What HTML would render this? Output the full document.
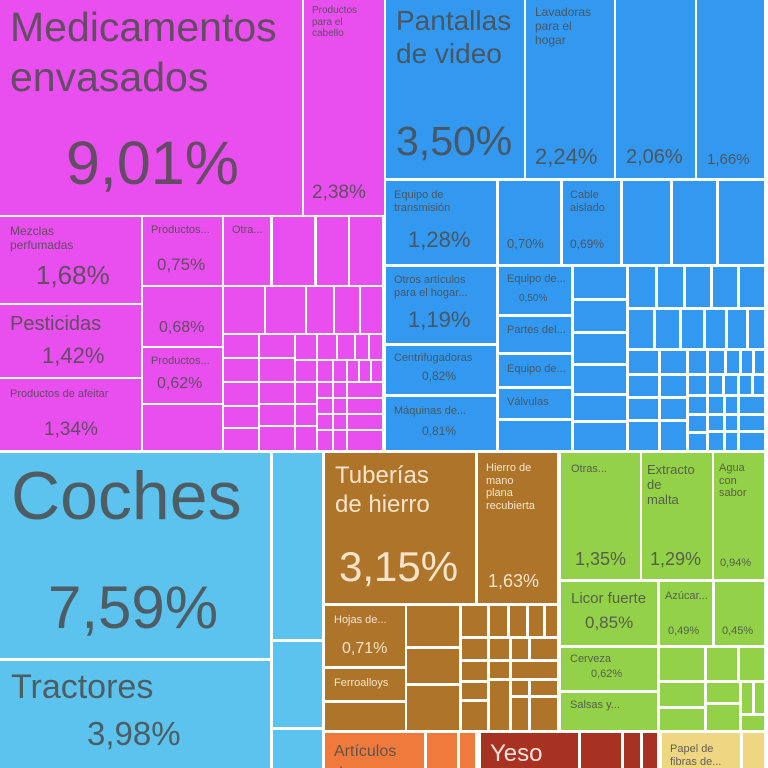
<!DOCTYPE html>
<html><head><meta charset="utf-8"><style>
body{margin:0;width:768px;height:768px;background:#fff;position:relative;overflow:hidden;font-family:"Liberation Sans","DejaVu Sans",sans-serif}
div{position:absolute;box-sizing:border-box;overflow:hidden;color:rgba(75,75,75,.85);line-height:1.15}
.m{background:#e84fee}.b{background:#3399f0}.l{background:#5cc3ee}.r{background:#ae7429}.g{background:#93d148}.o{background:#f07a3c}.d{background:#a83222}.t{background:#eed682}
.r div,.r{color:rgba(255,240,220,.9)}
.d{color:rgba(255,235,230,.95)}
span{position:absolute;white-space:nowrap}
</style></head><body>
<!-- magenta -->
<div class="m" style="left:0;top:0;width:302px;height:215px"><span style="left:10px;top:2px;font-size:41px;line-height:50px">Medicamentos<br>envasados</span><span style="left:66px;top:128px;font-size:61px">9,01%</span></div>
<div class="m" style="left:304px;top:0;width:80px;height:215px"><span style="left:8px;top:5px;font-size:10px">Productos<br>para el<br>cabello</span><span style="left:8px;top:182px;font-size:19px">2,38%</span></div>
<div class="m" style="left:0;top:217px;width:141px;height:86px"><span style="left:10px;top:8px;font-size:12px">Mezclas<br>perfumadas</span><span style="left:36px;top:44px;font-size:26px">1,68%</span></div>
<div class="m" style="left:0;top:305px;width:141px;height:72px"><span style="left:10px;top:8px;font-size:20px">Pesticidas</span><span style="left:42px;top:38px;font-size:22px">1,42%</span></div>
<div class="m" style="left:0;top:379px;width:141px;height:71px"><span style="left:10px;top:9px;font-size:11px">Productos de afeitar</span><span style="left:44px;top:40px;font-size:19px">1,34%</span></div>
<div class="m" style="left:143px;top:217px;width:79px;height:68px"><span style="left:8px;top:7px;font-size:11px">Productos...</span><span style="left:14px;top:38px;font-size:17px">0,75%</span></div>
<div class="m" style="left:143px;top:287px;width:79px;height:59px"><span style="left:16px;top:32px;font-size:16px">0,68%</span></div>
<div class="m" style="left:143px;top:348px;width:79px;height:55px"><span style="left:8px;top:7px;font-size:11px">Productos...</span><span style="left:14px;top:27px;font-size:16px">0,62%</span></div>
<div class="m" style="left:143px;top:405px;width:79px;height:45px"></div>
<div class="m" style="left:224px;top:217px;width:46px;height:68px"><span style="left:8px;top:7px;font-size:11px">Otra...</span></div>
<div class="m" style="left:273px;top:217px;width:41px;height:68px"></div>
<div class="m" style="left:317px;top:217px;width:31px;height:68px"></div>
<div class="m" style="left:350px;top:217px;width:32px;height:68px"></div>
<div class="m" style="left:224px;top:287px;width:40px;height:46px"></div>
<div class="m" style="left:266px;top:287px;width:39px;height:46px"></div>
<div class="m" style="left:307px;top:287px;width:26px;height:46px"></div>
<div class="m" style="left:335px;top:287px;width:24px;height:46px"></div>
<div class="m" style="left:361px;top:287px;width:21px;height:46px"></div>
<div class="m" style="left:224px;top:335px;width:34px;height:22px"></div>
<div class="m" style="left:224px;top:359px;width:34px;height:22px"></div>
<div class="m" style="left:224px;top:383px;width:34px;height:22px"></div>
<div class="m" style="left:224px;top:407px;width:34px;height:20px"></div>
<div class="m" style="left:224px;top:429px;width:34px;height:21px"></div>
<div class="m" style="left:260px;top:335px;width:34px;height:22px"></div>
<div class="m" style="left:260px;top:359px;width:34px;height:22px"></div>
<div class="m" style="left:260px;top:383px;width:34px;height:20px"></div>
<div class="m" style="left:260px;top:405px;width:34px;height:20px"></div>
<div class="m" style="left:260px;top:427px;width:34px;height:23px"></div>
<div class="m" style="left:296px;top:335px;width:20px;height:24px"></div>
<div class="m" style="left:318px;top:335px;width:18px;height:24px"></div>
<div class="m" style="left:338px;top:335px;width:16px;height:24px"></div>
<div class="m" style="left:356px;top:335px;width:12px;height:24px"></div>
<div class="m" style="left:370px;top:335px;width:12px;height:24px"></div>
<div class="m" style="left:296px;top:361px;width:20px;height:20px"></div>
<div class="m" style="left:296px;top:383px;width:20px;height:20px"></div>
<div class="m" style="left:296px;top:405px;width:20px;height:20px"></div>
<div class="m" style="left:296px;top:427px;width:20px;height:23px"></div>
<div class="m" style="left:318px;top:361px;width:14px;height:20px"></div>
<div class="m" style="left:334px;top:361px;width:12px;height:20px"></div>
<div class="m" style="left:348px;top:361px;width:10px;height:20px"></div>
<div class="m" style="left:360px;top:361px;width:10px;height:20px"></div>
<div class="m" style="left:372px;top:361px;width:10px;height:20px"></div>
<div class="m" style="left:318px;top:383px;width:14px;height:14px"></div>
<div class="m" style="left:334px;top:383px;width:12px;height:14px"></div>
<div class="m" style="left:348px;top:383px;width:34px;height:14px"></div>
<div class="m" style="left:318px;top:399px;width:14px;height:14px"></div>
<div class="m" style="left:334px;top:399px;width:12px;height:14px"></div>
<div class="m" style="left:348px;top:399px;width:34px;height:14px"></div>
<div class="m" style="left:318px;top:415px;width:14px;height:14px"></div>
<div class="m" style="left:334px;top:415px;width:12px;height:14px"></div>
<div class="m" style="left:348px;top:415px;width:34px;height:14px"></div>
<div class="m" style="left:318px;top:431px;width:14px;height:19px"></div>
<div class="m" style="left:334px;top:431px;width:12px;height:19px"></div>
<div class="m" style="left:348px;top:431px;width:34px;height:19px"></div>
<!-- blue -->
<div class="b" style="left:386px;top:0;width:138px;height:178px"><span style="left:10px;top:4px;font-size:28px;line-height:33px">Pantallas<br>de video</span><span style="left:10px;top:118px;font-size:41px">3,50%</span></div>
<div class="b" style="left:526px;top:0;width:88px;height:178px"><span style="left:9px;top:6px;font-size:12px">Lavadoras<br>para el<br>hogar</span><span style="left:9px;top:144px;font-size:22px">2,24%</span></div>
<div class="b" style="left:616px;top:0;width:79px;height:178px"><span style="left:10px;top:146px;font-size:20px">2,06%</span></div>
<div class="b" style="left:697px;top:0;width:67px;height:178px"><span style="left:10px;top:151px;font-size:15px">1,66%</span></div>
<div class="b" style="left:386px;top:181px;width:110px;height:83px"><span style="left:8px;top:8px;font-size:11px">Equipo de<br>transmisión</span><span style="left:22px;top:46px;font-size:22px">1,28%</span></div>
<div class="b" style="left:499px;top:181px;width:61px;height:83px"><span style="left:8px;top:56px;font-size:13px">0,70%</span></div>
<div class="b" style="left:563px;top:181px;width:57px;height:83px"><span style="left:7px;top:8px;font-size:11px">Cable<br>aislado</span><span style="left:7px;top:57px;font-size:12px">0,69%</span></div>
<div class="b" style="left:623px;top:181px;width:47px;height:83px"></div>
<div class="b" style="left:673px;top:181px;width:43px;height:83px"></div>
<div class="b" style="left:719px;top:181px;width:45px;height:83px"></div>
<div class="b" style="left:386px;top:267px;width:110px;height:76px"><span style="left:8px;top:7px;font-size:11px">Otros artículos<br>para el hogar...</span><span style="left:22px;top:40px;font-size:22px">1,19%</span></div>
<div class="b" style="left:386px;top:346px;width:110px;height:48px"><span style="left:8px;top:6px;font-size:11px">Centrifugadoras</span><span style="left:36px;top:24px;font-size:12px">0,82%</span></div>
<div class="b" style="left:386px;top:397px;width:110px;height:53px"><span style="left:8px;top:8px;font-size:11px">Máquinas de...</span><span style="left:36px;top:28px;font-size:12px">0,81%</span></div>
<div class="b" style="left:499px;top:267px;width:72px;height:47px"><span style="left:8px;top:6px;font-size:11px">Equipo de...</span><span style="left:20px;top:26px;font-size:10px">0,50%</span></div>
<div class="b" style="left:499px;top:317px;width:72px;height:35px"><span style="left:8px;top:7px;font-size:11px">Partes del...</span></div>
<div class="b" style="left:499px;top:355px;width:72px;height:31px"><span style="left:8px;top:8px;font-size:11px">Equipo de...</span></div>
<div class="b" style="left:499px;top:389px;width:72px;height:29px"><span style="left:8px;top:7px;font-size:11px">Válvulas</span></div>
<div class="b" style="left:499px;top:421px;width:72px;height:29px"></div>
<div class="b" style="left:574px;top:267px;width:52px;height:31px"></div>
<div class="b" style="left:574px;top:301px;width:52px;height:30px"></div>
<div class="b" style="left:574px;top:334px;width:52px;height:29px"></div>
<div class="b" style="left:574px;top:366px;width:52px;height:27px"></div>
<div class="b" style="left:574px;top:396px;width:52px;height:24px"></div>
<div class="b" style="left:574px;top:423px;width:52px;height:27px"></div>
<div class="b" style="left:629px;top:267px;width:26px;height:40px"></div>
<div class="b" style="left:658px;top:267px;width:25px;height:40px"></div>
<div class="b" style="left:686px;top:267px;width:24px;height:40px"></div>
<div class="b" style="left:713px;top:267px;width:24px;height:40px"></div>
<div class="b" style="left:740px;top:267px;width:24px;height:40px"></div>
<div class="b" style="left:629px;top:310px;width:24px;height:38px"></div>
<div class="b" style="left:656px;top:310px;width:23px;height:38px"></div>
<div class="b" style="left:682px;top:310px;width:21px;height:38px"></div>
<div class="b" style="left:706px;top:310px;width:19px;height:38px"></div>
<div class="b" style="left:728px;top:310px;width:18px;height:38px"></div>
<div class="b" style="left:749px;top:310px;width:15px;height:38px"></div>
<div class="b" style="left:629px;top:351px;width:29px;height:22px"></div>
<div class="b" style="left:629px;top:376px;width:29px;height:20px"></div>
<div class="b" style="left:629px;top:399px;width:29px;height:20px"></div>
<div class="b" style="left:629px;top:422px;width:29px;height:28px"></div>
<div class="b" style="left:661px;top:351px;width:25px;height:22px"></div>
<div class="b" style="left:661px;top:376px;width:25px;height:20px"></div>
<div class="b" style="left:661px;top:399px;width:25px;height:20px"></div>
<div class="b" style="left:661px;top:422px;width:25px;height:28px"></div>
<div class="b" style="left:689px;top:351px;width:17px;height:22px"></div>
<div class="b" style="left:709px;top:351px;width:15px;height:22px"></div>
<div class="b" style="left:727px;top:351px;width:12px;height:22px"></div>
<div class="b" style="left:742px;top:351px;width:10px;height:22px"></div>
<div class="b" style="left:755px;top:351px;width:9px;height:22px"></div>
<div class="b" style="left:689px;top:376px;width:17px;height:18px"></div>
<div class="b" style="left:709px;top:376px;width:13px;height:18px"></div>
<div class="b" style="left:725px;top:376px;width:12px;height:18px"></div>
<div class="b" style="left:740px;top:376px;width:11px;height:18px"></div>
<div class="b" style="left:754px;top:376px;width:10px;height:18px"></div>
<div class="b" style="left:689px;top:397px;width:17px;height:16px"></div>
<div class="b" style="left:689px;top:416px;width:17px;height:15px"></div>
<div class="b" style="left:689px;top:434px;width:17px;height:16px"></div>
<div class="b" style="left:709px;top:397px;width:14px;height:16px"></div>
<div class="b" style="left:726px;top:397px;width:11px;height:16px"></div>
<div class="b" style="left:740px;top:397px;width:24px;height:16px"></div>
<div class="b" style="left:709px;top:416px;width:14px;height:14px"></div>
<div class="b" style="left:726px;top:416px;width:11px;height:14px"></div>
<div class="b" style="left:740px;top:416px;width:24px;height:14px"></div>
<div class="b" style="left:709px;top:433px;width:14px;height:17px"></div>
<div class="b" style="left:726px;top:433px;width:11px;height:17px"></div>
<div class="b" style="left:740px;top:433px;width:24px;height:17px"></div>
<!-- light blue -->
<div class="l" style="left:0;top:453px;width:270px;height:205px"><span style="left:11px;top:4px;font-size:68px">Coches</span><span style="left:48px;top:120px;font-size:60px">7,59%</span></div>
<div class="l" style="left:0;top:661px;width:270px;height:107px"><span style="left:11px;top:7px;font-size:34px">Tractores</span><span style="left:87px;top:54px;font-size:33px">3,98%</span></div>
<div class="l" style="left:273px;top:453px;width:49px;height:186px"></div>
<div class="l" style="left:273px;top:642px;width:49px;height:85px"></div>
<div class="l" style="left:273px;top:730px;width:49px;height:38px"></div>
<!-- brown -->
<div class="r" style="left:325px;top:453px;width:150px;height:150px"><span style="left:10px;top:8px;font-size:24px;line-height:29px">Tuberías<br>de hierro</span><span style="left:14px;top:90px;font-size:42px">3,15%</span></div>
<div class="r" style="left:478px;top:453px;width:79px;height:150px"><span style="left:8px;top:9px;font-size:11px">Hierro de<br>mano<br>plana<br>recubierta</span><span style="left:10px;top:118px;font-size:18px">1,63%</span></div>
<div class="r" style="left:325px;top:606px;width:80px;height:60px"><span style="left:9px;top:8px;font-size:11px">Hojas de...</span><span style="left:17px;top:34px;font-size:16px">0,71%</span></div>
<div class="r" style="left:325px;top:669px;width:80px;height:31px"><span style="left:9px;top:8px;font-size:11px">Ferroalloys</span></div>
<div class="r" style="left:325px;top:703px;width:80px;height:27px"></div>
<div class="r" style="left:407px;top:606px;width:52px;height:40px"></div>
<div class="r" style="left:407px;top:649px;width:52px;height:34px"></div>
<div class="r" style="left:407px;top:686px;width:52px;height:44px"></div>
<div class="r" style="left:462px;top:606px;width:25px;height:30px"></div>
<div class="r" style="left:490px;top:606px;width:17px;height:30px"></div>
<div class="r" style="left:510px;top:606px;width:16px;height:30px"></div>
<div class="r" style="left:529px;top:606px;width:14px;height:30px"></div>
<div class="r" style="left:546px;top:606px;width:11px;height:30px"></div>
<div class="r" style="left:462px;top:639px;width:25px;height:20px"></div>
<div class="r" style="left:462px;top:662px;width:25px;height:18px"></div>
<div class="r" style="left:462px;top:683px;width:25px;height:16px"></div>
<div class="r" style="left:462px;top:702px;width:25px;height:28px"></div>
<div class="r" style="left:490px;top:639px;width:19px;height:20px"></div>
<div class="r" style="left:512px;top:639px;width:16px;height:20px"></div>
<div class="r" style="left:531px;top:639px;width:26px;height:20px"></div>
<div class="r" style="left:490px;top:662px;width:19px;height:16px"></div>
<div class="r" style="left:512px;top:662px;width:45px;height:16px"></div>
<div class="r" style="left:490px;top:681px;width:19px;height:49px"></div>
<div class="r" style="left:512px;top:681px;width:16px;height:14px"></div>
<div class="r" style="left:531px;top:681px;width:26px;height:14px"></div>
<div class="r" style="left:512px;top:698px;width:16px;height:32px"></div>
<div class="r" style="left:531px;top:698px;width:26px;height:32px"></div>
<!-- green -->
<div class="g" style="left:561px;top:453px;width:79px;height:126px"><span style="left:10px;top:10px;font-size:11px">Otras...</span><span style="left:14px;top:96px;font-size:18px">1,35%</span></div>
<div class="g" style="left:642px;top:453px;width:70px;height:126px"><span style="left:5px;top:10px;font-size:13px">Extracto<br>de<br>malta</span><span style="left:8px;top:96px;font-size:18px">1,29%</span></div>
<div class="g" style="left:714px;top:453px;width:50px;height:126px"><span style="left:5px;top:9px;font-size:11px">Agua<br>con<br>sabor</span><span style="left:6px;top:104px;font-size:11px">0,94%</span></div>
<div class="g" style="left:561px;top:582px;width:96px;height:63px"><span style="left:10px;top:8px;font-size:15px">Licor fuerte</span><span style="left:24px;top:31px;font-size:17px">0,85%</span></div>
<div class="g" style="left:660px;top:582px;width:52px;height:63px"><span style="left:5px;top:8px;font-size:11px">Azúcar...</span><span style="left:8px;top:43px;font-size:11px">0,49%</span></div>
<div class="g" style="left:715px;top:582px;width:49px;height:63px"><span style="left:7px;top:43px;font-size:11px">0,45%</span></div>
<div class="g" style="left:561px;top:648px;width:96px;height:42px"><span style="left:9px;top:5px;font-size:11px">Cerveza</span><span style="left:30px;top:20px;font-size:11px">0,62%</span></div>
<div class="g" style="left:561px;top:693px;width:96px;height:37px"><span style="left:9px;top:6px;font-size:11px">Salsas y...</span></div>
<div class="g" style="left:660px;top:648px;width:44px;height:32px"></div>
<div class="g" style="left:707px;top:648px;width:30px;height:32px"></div>
<div class="g" style="left:740px;top:648px;width:24px;height:32px"></div>
<div class="g" style="left:660px;top:683px;width:44px;height:23px"></div>
<div class="g" style="left:660px;top:709px;width:44px;height:21px"></div>
<div class="g" style="left:707px;top:683px;width:32px;height:19px"></div>
<div class="g" style="left:707px;top:705px;width:32px;height:25px"></div>
<div class="g" style="left:742px;top:683px;width:10px;height:30px"></div>
<div class="g" style="left:755px;top:683px;width:9px;height:30px"></div>
<div class="g" style="left:742px;top:716px;width:22px;height:14px"></div>
<!-- bottom row -->
<div class="o" style="left:325px;top:733px;width:99px;height:35px"><span style="left:9px;top:8px;font-size:16px;line-height:22px">Artículos<br>de aseo</span></div>
<div class="o" style="left:427px;top:733px;width:30px;height:35px"></div>
<div class="o" style="left:460px;top:733px;width:15px;height:35px"></div>
<div class="d" style="left:481px;top:733px;width:97px;height:35px"><span style="left:9px;top:7px;font-size:24px">Yeso</span></div>
<div class="d" style="left:581px;top:733px;width:40px;height:35px"></div>
<div class="d" style="left:624px;top:733px;width:16px;height:35px"></div>
<div class="d" style="left:643px;top:733px;width:14px;height:35px"></div>
<div class="t" style="left:662px;top:733px;width:78px;height:35px"><span style="left:8px;top:10px;font-size:11px">Papel de<br>fibras de...</span></div>
<div class="t" style="left:743px;top:733px;width:21px;height:35px"></div>
</body></html>
